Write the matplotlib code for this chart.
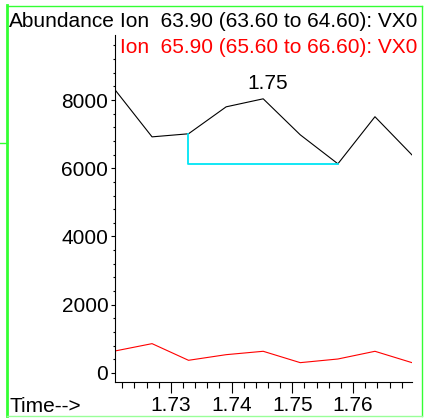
import matplotlib
matplotlib.use("Agg")
import matplotlib.pyplot as plt
from matplotlib.ticker import MultipleLocator
from matplotlib.transforms import Bbox

# scan times (min) and abundances
times = [1.7208, 1.7269, 1.7329, 1.7391, 1.7452, 1.7513, 1.7575, 1.7636, 1.7697]
ion_63 = [8300, 6920, 7010, 7800, 8035, 6980, 6130, 7510, 6390]
ion_65 = [645, 860, 372, 537, 636, 303, 410, 636, 303]

peak_label = "1.75"
title_63 = "Ion  63.90 (63.60 to 64.60): VX0"
title_65 = "Ion  65.90 (65.60 to 66.60): VX0"
x_ticks = [1.73, 1.74, 1.75, 1.76]
y_ticks = [0, 2000, 4000, 6000, 8000]

W, H = 425, 418
plt.rcParams['font.family'] = ['Liberation Sans', 'DejaVu Sans']
fig = plt.figure(figsize=(W / 100, H / 100), dpi=100)
fs = 15

ax = fig.add_axes([115 / W, 1 - 382 / H, (412 - 115) / W, (382 - 35) / H])
ax.plot(times, ion_63, color='black', lw=0.8)
ax.plot(times, ion_65, color='red', lw=0.8)

# integration baseline under the peak
i0, i1 = 2, 6
ax.plot([times[i0], times[i0], times[i1]],
        [ion_63[i0], ion_63[i1], ion_63[i1]], color='#00e5f5', lw=1.3)

seg = ion_63[i0:i1 + 1]
ipk = i0 + seg.index(max(seg))
ax.annotate(peak_label, (times[ipk], ion_63[ipk]), xytext=(3, 4),
            textcoords='offset points', ha='center', va='bottom', fontsize=fs)

ax.set_xlim(times[0], times[-1])
ax.set_ylim(-264, 9905)
ax.set_xticks(x_ticks)
ax.set_xticklabels([f"{t:.2f}" for t in x_ticks])
ax.xaxis.set_minor_locator(MultipleLocator(0.002))
ax.set_yticks(y_ticks)
ax.yaxis.set_minor_locator(MultipleLocator(400))
ax.tick_params(axis='x', which='major', length=8, width=0.8, pad=2, labelsize=fs)
ax.tick_params(axis='x', which='minor', length=4.3, width=0.8)
ax.tick_params(axis='y', which='major', length=2.8, width=0.8, pad=2, labelsize=fs)
ax.tick_params(axis='y', which='minor', length=1.6, width=0.8)
for s in ['top', 'right']:
    ax.spines[s].set_visible(False)
for s in ['left', 'bottom']:
    ax.spines[s].set_linewidth(0.8)

clip = Bbox.from_extents(0, 0, 421, H)
fig.text(9 / W, 1 - 27 / H, "Abundance", fontsize=fs, va='baseline')
t1 = fig.text(120 / W, 1 - 27 / H, title_63, fontsize=fs, va='baseline', color='black')
t2 = fig.text(120 / W, 1 - 53 / H, title_65, fontsize=fs, va='baseline', color='red')
for t in (t1, t2):
    t.set_clip_on(True)
    t.set_clip_box(clip)
fig.text(9 / W, 1 - 412 / H, "Time-->", fontsize=fs, va='baseline')

# green window frame
frame = fig.add_axes([0, 0, 1, 1], zorder=5)
frame.set_xlim(0, W)
frame.set_ylim(H, 0)
frame.axis('off')
frame.patch.set_alpha(0)
green = '#33ff33'
frame.plot([7, 7], [5, 416], color=green, lw=2)
frame.plot([7, 422], [6, 6], color=green, lw=1)
frame.plot([422, 422], [6, 416], color=green, lw=1)
frame.plot([7, 422], [416, 416], color='#99ff99', lw=1)
frame.plot([0, 7], [143, 143], color=green, lw=1)

fig.savefig("out.png", dpi=100)
